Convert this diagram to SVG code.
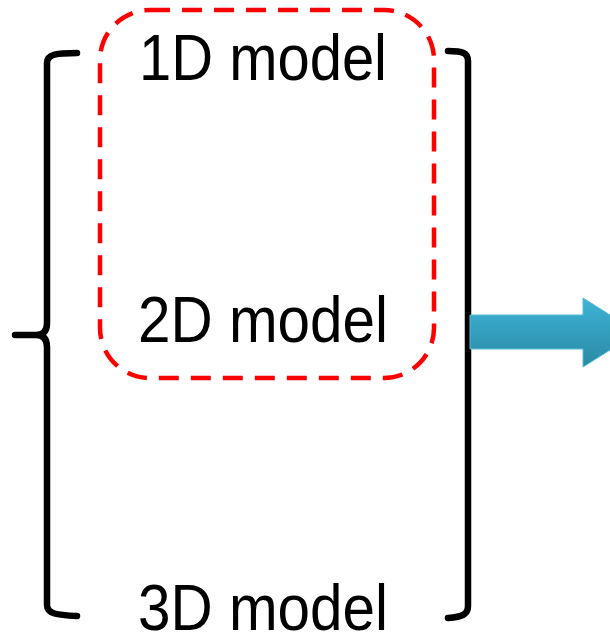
<svg xmlns="http://www.w3.org/2000/svg" width="610" height="634" viewBox="0 0 610 634">
  <defs>
    <linearGradient id="arrowGrad" x1="0" y1="0" x2="0" y2="1">
      <stop offset="0" stop-color="#3db3d6"/>
      <stop offset="1" stop-color="#2b89a5"/>
    </linearGradient>
  </defs>
  <style>
    .label { font-family: "Liberation Sans", Arial, sans-serif; font-size: 65px; fill: #000; }
    .bracket { fill: none; stroke: #000; stroke-width: 6.5; stroke-linecap: round; stroke-linejoin: round; }
    .group-box { fill: none; stroke: #ff0000; stroke-width: 4.5; stroke-dasharray: 20 12; }
  </style>
  <g id="brackets">
    <path id="left-brace" class="bracket" d="M77,53 C57,53 47,54 47,63 L47,323 Q47,335 36,335 L15,335 M36,335 Q47,335 47,347 L47,605 C47,614 57,615 77,616"/>
    <path id="right-bracket" class="bracket" d="M448,51 C463,51 468,53 468,61 L468,606 C468,614 463,617 448,618"/>
  </g>
  <g id="group-box">
    <rect x="100" y="10" width="334" height="368" rx="50" ry="50" class="group-box"/>
  </g>
  <g id="node-1d">
    <text class="label" x="139" y="80" textLength="248" lengthAdjust="spacingAndGlyphs">1D model</text>
  </g>
  <g id="node-2d">
    <text class="label" x="138" y="342" textLength="250" lengthAdjust="spacingAndGlyphs">2D model</text>
  </g>
  <g id="node-3d">
    <text class="label" x="138" y="630" textLength="250" lengthAdjust="spacingAndGlyphs">3D model</text>
  </g>
  <g id="connectors">
    <polygon points="470,315 583,315 583,298 638,332.5 583,367 583,349 470,349" fill="url(#arrowGrad)" stroke="#58bcd9" stroke-width="1"/>
  </g>
</svg>
